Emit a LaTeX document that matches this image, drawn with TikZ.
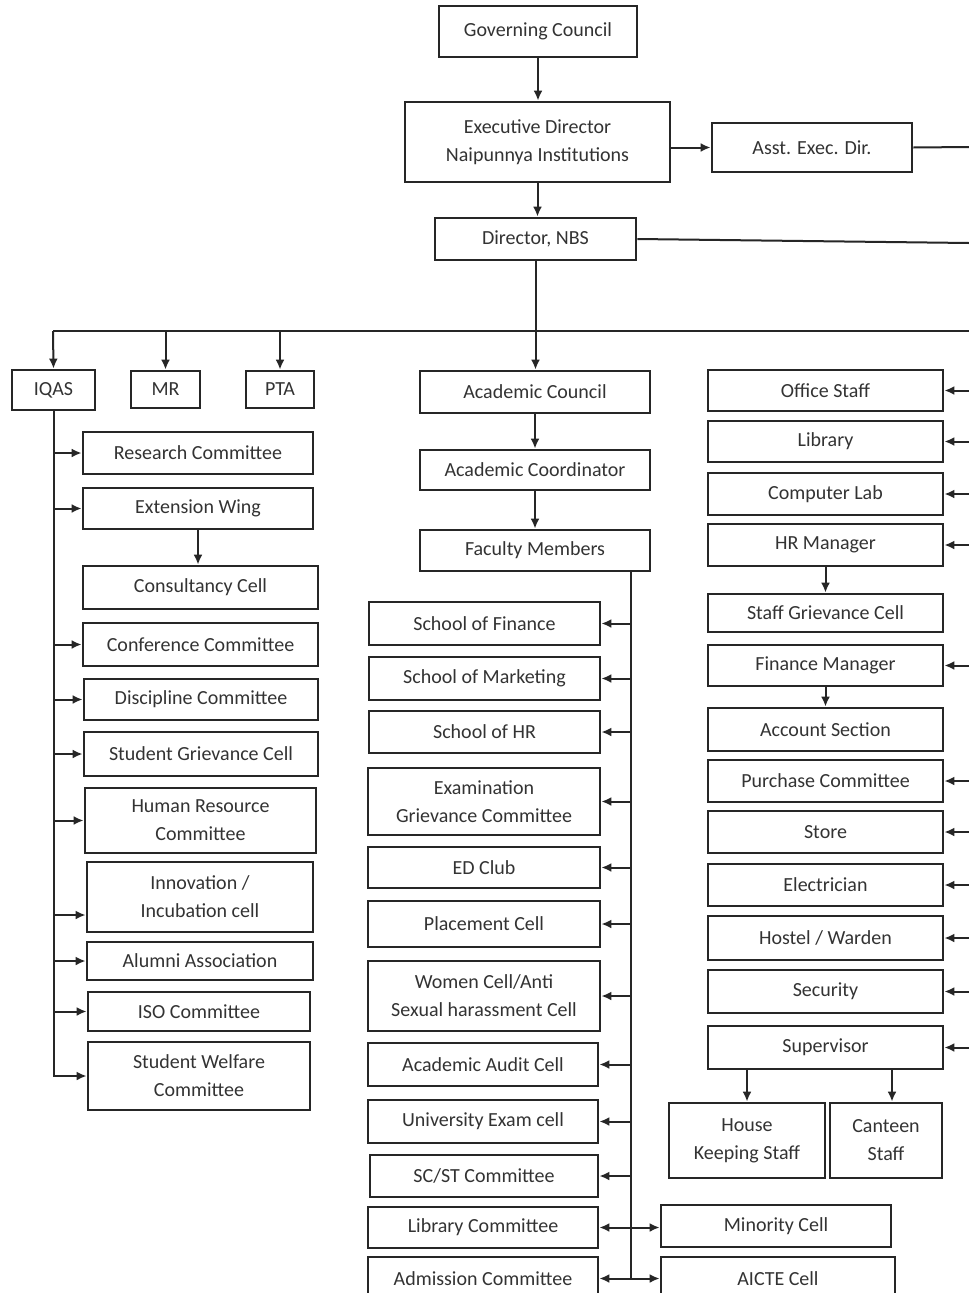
\documentclass[tikz,border=0pt]{standalone}
\usepackage{fontspec}
\setmainfont{Carlito}
\usetikzlibrary{arrows.meta}
\newcommand\obox[6]{\node[box,minimum width={#4-#2},minimum height={#5-#3}] (#1) at ({(#2+#4)/2},{(#3+#5)/2}) {#6};}
\begin{document}
\begin{tikzpicture}[x=1pt,y=-1pt,
  box/.style={draw=black!85,line width=2.8pt,inner sep=0pt,align=center,text=black!80,font=\fontsize{20}{28}\selectfont,fill=white},
  conn/.style={draw=black!85,line width=2pt},
  arr/.style={conn,-{Latex[length=10pt,width=9pt]}}]
\useasboundingbox[fill=white] (0,0) rectangle (969,1293);
% top
\obox{gc}{439}{6}{637}{57}{Governing Council}
\obox{ed}{405}{102}{670}{182}{Executive Director\\Naipunnya Institutions}
\obox{asst}{712}{123}{912}{172}{Asst. Exec. Dir.}
\obox{dir}{435}{218}{636}{260}{Director, NBS}
\coordinate (rA) at (969,147);
\coordinate (rD) at (969,243);
\coordinate (busL) at (53,331);
\coordinate (busR) at (969,331);
% bus row
\obox{iqas}{12}{370}{95}{410}{IQAS}
\obox{mr}{131}{371}{200}{408}{MR}
\obox{pta}{246}{371}{314}{408}{PTA}
% middle top
\obox{acc}{420}{371}{650}{413}{Academic Council}
\obox{aco}{420}{450}{650}{490}{Academic Coordinator}
\obox{fm}{420}{530}{650}{571}{Faculty Members}
% left column
\obox{rc}{83}{432}{313}{474}{Research Committee}
\obox{ew}{83}{488}{313}{529}{Extension Wing}
\obox{cc}{83}{566}{318}{609}{Consultancy Cell}
\obox{conf}{83}{623}{318}{666}{Conference Committee}
\obox{disc}{84}{679}{318}{720}{Discipline Committee}
\obox{sgc}{84}{732}{318}{776}{Student Grievance Cell}
\obox{hrc}{85}{788}{316}{853}{Human Resource\\Committee}
\obox{inn}{87}{862}{313}{932}{Innovation /\\Incubation cell}
\obox{alu}{87}{942}{313}{980}{Alumni Association}
\obox{iso}{88}{992}{310}{1031}{ISO Committee}
\obox{swc}{88}{1042}{310}{1110}{Student Welfare\\Committee}
% middle column
\obox{sf}{369}{602}{600}{645}{School of Finance}
\obox{sm}{369}{657}{600}{700}{School of Marketing}
\obox{shr}{369}{711}{600}{753}{School of HR}
\obox{egc}{368}{768}{600}{835}{Examination\\Grievance Committee}
\obox{edc}{368}{847}{600}{888}{ED Club}
\obox{pc}{368}{901}{600}{947}{Placement Cell}
\obox{wc}{368}{961}{600}{1031}{Women Cell/Anti\\Sexual harassment Cell}
\obox{aac}{368}{1043}{598}{1086}{Academic Audit Cell}
\obox{uec}{368}{1100}{598}{1143}{University Exam cell}
\obox{scst}{370}{1155}{598}{1197}{SC/ST Committee}
\obox{lc}{368}{1207}{598}{1248}{Library Committee}
\obox{adm}{368}{1257}{598}{1300}{Admission Committee}
\obox{mc}{661}{1205}{891}{1247}{Minority Cell}
\obox{aicte}{661}{1257}{895}{1300}{AICTE Cell}
% right column
\obox{os}{708}{370}{943}{411}{Office Staff}
\obox{lib}{708}{421}{943}{462}{Library}
\obox{cl}{708}{473}{943}{515}{Computer Lab}
\obox{hrm}{708}{524}{943}{566}{HR Manager}
\obox{stg}{708}{594}{943}{632}{Staff Grievance Cell}
\obox{fin}{708}{645}{943}{686}{Finance Manager}
\obox{acs}{708}{708}{943}{751}{Account Section}
\obox{pur}{708}{760}{943}{802}{Purchase Committee}
\obox{sto}{708}{811}{943}{853}{Store}
\obox{ele}{708}{864}{943}{906}{Electrician}
\obox{hos}{708}{916}{943}{960}{Hostel / Warden}
\obox{sec}{708}{970}{943}{1013}{Security}
\obox{sup}{708}{1026}{943}{1069}{Supervisor}
\obox{hk}{669}{1103}{825}{1178}{House\\Keeping Staff}
\obox{cs}{830}{1103}{942}{1178}{Canteen\\Staff}
% connectors top
\draw[arr] (gc.south) -- (gc.south |- ed.north);
\draw[arr] (ed.east |- asst) -- (asst.west);
\draw[conn] (asst.east) -- (rA);
\draw[arr] (ed.south) -- (ed.south |- dir.north);
\draw[conn] (dir.east) -- (rD);
\draw[arr] (dir.south) -- (dir.south |- acc.north);
\draw[conn] (busL) -- (busR);
\draw[arr] (busL) -- (iqas.north);
\draw[arr] (busL -| mr.north) -- (mr.north);
\draw[arr] (busL -| pta.north) -- (pta.north);
\draw[arr] (acc.south) -- (aco.north);
\draw[arr] (aco.south) -- (fm.north);
% left trunk
\draw[arr] (iqas.south) |- (swc.west);
\foreach \n in {rc,ew,conf,disc,sgc,hrc,alu,iso}
  \draw[arr] (iqas.south |- \n.west) -- (\n.west);
\draw[arr] (iqas.south |- 0,915) -- (inn.west |- 0,915);
\draw[arr] (ew.south) -- (ew.south |- cc.north);
% middle trunk
\coordinate (mt) at ([xshift=-20pt]fm.south east);
\draw[conn] (mt) -- (mt |- adm.east);
\foreach \n in {sf,sm,shr,egc,edc,pc,wc,aac,uec,scst,lc,adm}
  \draw[arr] (mt |- \n.east) -- (\n.east);
\draw[arr] (mt |- lc.east) -- (mc.west |- lc.east);
\draw[arr] (mt |- adm.east) -- (aicte.west |- adm.east);
% right column
\coordinate (rt) at (969,331);
\foreach \n in {os,lib,cl,hrm,fin,pur,sto,ele,hos,sec,sup}
  \draw[arr] (rt |- \n.east) -- (\n.east);
\draw[arr] (hrm.south) -- (stg.north);
\draw[arr] (fin.south) -- (acs.north);
\draw[arr] (sup.south -| hk.north) -- (hk.north);
\draw[arr] ([xshift=6pt]sup.south -| cs.north) -- ([xshift=6pt]cs.north);
\end{tikzpicture}
\end{document}
